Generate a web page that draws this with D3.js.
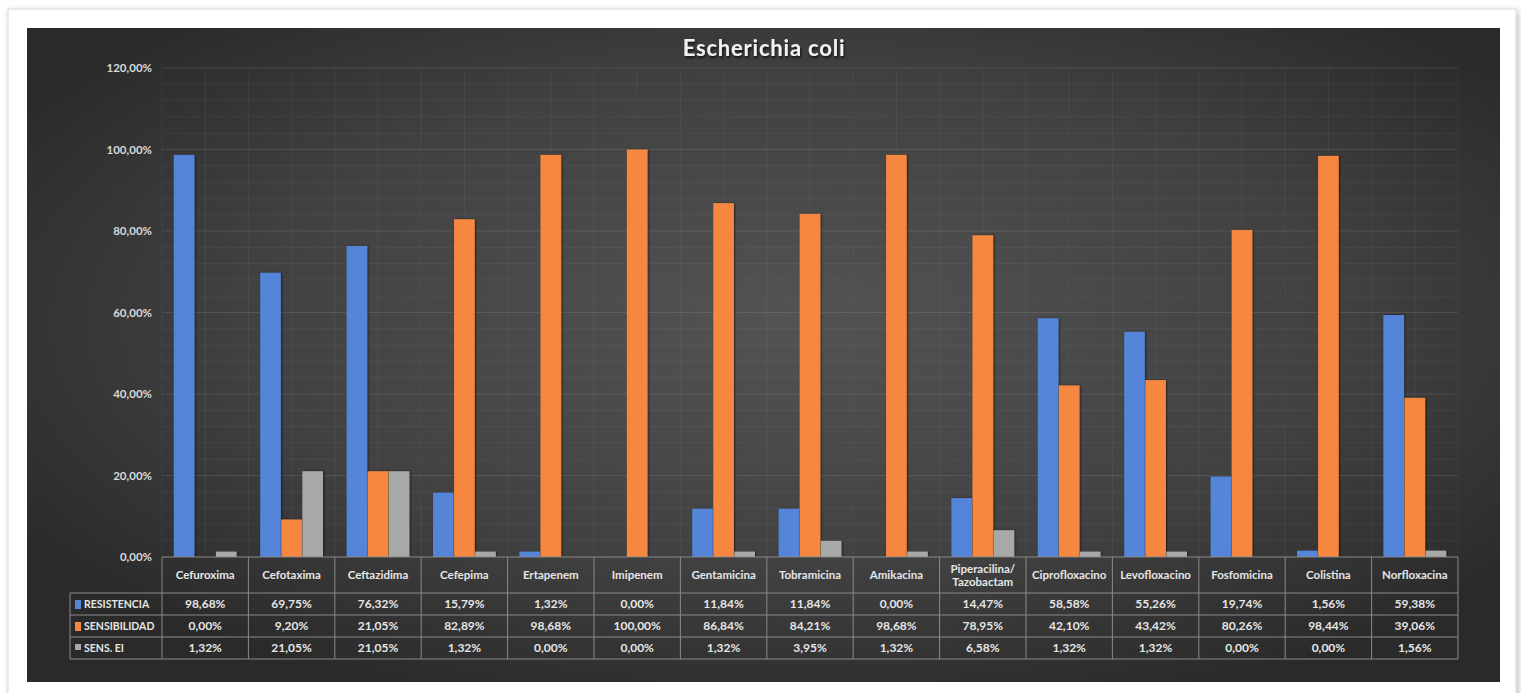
<!DOCTYPE html>
<html>
<head>
<meta charset="utf-8">
<script src="https://cdn.jsdelivr.net/npm/d3@7"></script>
<style>
  html, body { margin: 0; padding: 0; background: #ffffff; }
  svg { display: block; }
</style>
</head>
<body>
<svg id="chart" width="1521" height="693"></svg>
<script>
// Antibiotic susceptibility for Escherichia coli
const title = "Escherichia coli";
const categories = [
  "Cefuroxima", "Cefotaxima", "Ceftazidima", "Cefepima", "Ertapenem",
  "Imipenem", "Gentamicina", "Tobramicina", "Amikacina",
  "Piperacilina/\nTazobactam", "Ciprofloxacino", "Levofloxacino",
  "Fosfomicina", "Colistina", "Norfloxacina"
];
const seriesNames = ["RESISTENCIA", "SENSIBILIDAD", "SENS. EI"];
const resistencia  = [98.68, 69.75, 76.32, 15.79, 1.32, 0.00, 11.84, 11.84, 0.00, 14.47, 58.58, 55.26, 19.74, 1.56, 59.38];
const sensibilidad = [0.00, 9.20, 21.05, 82.89, 98.68, 100.00, 86.84, 84.21, 98.68, 78.95, 42.10, 43.42, 80.26, 98.44, 39.06];
const sensEI       = [1.32, 21.05, 21.05, 1.32, 0.00, 0.00, 1.32, 3.95, 1.32, 6.58, 1.32, 1.32, 0.00, 0.00, 1.56];
const yTicks = [0, 20, 40, 60, 80, 100, 120];

const seriesValues = [resistencia, sensibilidad, sensEI];
const colors = ["#5585d8", "#f5873f", "#a8a8a8"];

const locale = d3.formatLocale({ decimal: ",", thousands: ".", grouping: [3], currency: ["", "€"] });
const pct = v => locale.format(".2f")(v) + "%";

const svg = d3.select("#chart");
const defs = svg.append("defs");

// background gradient of the chart area
const rg = defs.append("radialGradient").attr("id", "bg")
  .attr("cx", "52%").attr("cy", "45%").attr("r", "62%");
rg.append("stop").attr("offset", "0%").attr("stop-color", "#535353");
rg.append("stop").attr("offset", "60%").attr("stop-color", "#414141");
rg.append("stop").attr("offset", "100%").attr("stop-color", "#2a2a2a");

const card = defs.append("filter").attr("id", "cardShadow")
  .attr("x", "-2%").attr("y", "-2%").attr("width", "104%").attr("height", "104%");
card.append("feDropShadow").attr("dx", 2).attr("dy", 2).attr("stdDeviation", 3)
  .attr("flood-color", "#000").attr("flood-opacity", 0.25);

const barShadow = defs.append("filter").attr("id", "barShadow")
  .attr("x", "-30%").attr("y", "-5%").attr("width", "160%").attr("height", "110%");
barShadow.append("feDropShadow").attr("dx", 1).attr("dy", 0).attr("stdDeviation", 1.2)
  .attr("flood-color", "#000").attr("flood-opacity", 0.55);

const textShadow = defs.append("filter").attr("id", "textShadow")
  .attr("x", "-10%").attr("y", "-30%").attr("width", "120%").attr("height", "160%");
textShadow.append("feDropShadow").attr("dx", 1).attr("dy", 2).attr("stdDeviation", 1.2)
  .attr("flood-color", "#000").attr("flood-opacity", 0.7);

// white card and dark chart area
svg.append("rect").attr("x", 8).attr("y", 9).attr("width", 1508).attr("height", 690)
  .attr("fill", "#ffffff").attr("stroke", "#d8d8d8").attr("filter", "url(#cardShadow)");
svg.append("rect").attr("x", 27).attr("y", 28).attr("width", 1473).attr("height", 654)
  .attr("fill", "url(#bg)");

// title
svg.append("text")
  .attr("x", 764).attr("y", 56)
  .attr("text-anchor", "middle")
  .attr("font-family", "Lato, 'Open Sans', sans-serif")
  .attr("font-weight", 700)
  .attr("font-size", 22)
  .attr("letter-spacing", 0.8)
  .attr("fill", "#f2f2f2")
  .attr("filter", "url(#textShadow)")
  .text(title);

// scales
const plot = { left: 162, right: 1458, top: 68, bottom: 557 };
const x0 = d3.scaleBand().domain(categories).range([plot.left, plot.right]).padding(0);
const x1 = d3.scaleBand().domain(seriesNames).range([0, x0.bandwidth()])
  .paddingInner(0.02).paddingOuter(0.56);
const y = d3.scaleLinear().domain([0, 120]).range([plot.bottom, plot.top]);

const grid = svg.append("g");
// minor horizontal grid lines
grid.selectAll("line.minor").data(d3.range(4, 120, 4).filter(v => v % 20 !== 0))
  .join("line")
  .attr("x1", plot.left).attr("x2", plot.right)
  .attr("y1", d => y(d)).attr("y2", d => y(d))
  .attr("stroke", "#ffffff").attr("stroke-opacity", 0.05);
// major horizontal grid lines
grid.selectAll("line.major").data(yTicks.filter(v => v > 0))
  .join("line")
  .attr("x1", plot.left).attr("x2", plot.right)
  .attr("y1", d => y(d)).attr("y2", d => y(d))
  .attr("stroke", "#ffffff").attr("stroke-opacity", 0.1);
// vertical grid lines at category edges and centres
const vLines = [];
categories.forEach(c => {
  vLines.push(x0(c));
  vLines.push(x0(c) + x0.bandwidth() / 2);
});
vLines.push(plot.right);
grid.selectAll("line.v").data(vLines)
  .join("line")
  .attr("x1", d => d).attr("x2", d => d)
  .attr("y1", plot.top).attr("y2", plot.bottom)
  .attr("stroke", "#ffffff").attr("stroke-opacity", 0.05);

// y axis labels
const yAxis = d3.axisLeft(y).tickValues(yTicks).tickSize(0).tickPadding(10)
  .tickFormat(d => pct(d));
const ya = svg.append("g").attr("transform", `translate(${plot.left},0)`).call(yAxis);
ya.select(".domain").remove();
ya.selectAll("text")
  .attr("font-family", "Lato, 'Open Sans', sans-serif")
  .attr("font-weight", 700)
  .attr("font-size", 11.5)
  .attr("fill", "#d9d9d9");

// bars
const groups = svg.append("g").selectAll("g")
  .data(categories)
  .join("g")
  .attr("transform", d => `translate(${x0(d)},0)`);
groups.selectAll("rect")
  .data((c, i) => seriesNames.map((s, k) => ({ s, k, v: seriesValues[k][i] })))
  .join("rect")
  .filter(d => d.v > 0)
  .attr("x", d => x1(d.s))
  .attr("width", x1.bandwidth())
  .attr("y", d => y(d.v))
  .attr("height", d => y(0) - y(d.v))
  .attr("fill", d => colors[d.k])
  .attr("filter", "url(#barShadow)");

// data table
const table = svg.append("g");
const lineColor = "#8a8a8a";
const headerBottom = 593;
const rowH = 22;
const legendLeft = 70;
const tableBottom = headerBottom + rowH * seriesNames.length;
const font = "Lato, 'Open Sans', sans-serif";

// horizontal table lines
table.append("line").attr("x1", plot.left).attr("x2", plot.right)
  .attr("y1", plot.bottom).attr("y2", plot.bottom).attr("stroke", lineColor);
d3.range(seriesNames.length + 1).forEach(r => {
  const yy = headerBottom + r * rowH;
  table.append("line").attr("x1", legendLeft).attr("x2", plot.right)
    .attr("y1", yy).attr("y2", yy).attr("stroke", lineColor);
});
// vertical table lines
const colEdges = categories.map(c => x0(c)).concat([plot.right]);
table.selectAll("line.col").data(colEdges).join("line")
  .attr("x1", d => d).attr("x2", d => d)
  .attr("y1", plot.bottom).attr("y2", tableBottom)
  .attr("stroke", lineColor);
table.append("line").attr("x1", legendLeft).attr("x2", legendLeft)
  .attr("y1", headerBottom).attr("y2", tableBottom).attr("stroke", lineColor);

// category header text
categories.forEach(c => {
  const lines = c.split("\n");
  const cx = x0(c) + x0.bandwidth() / 2;
  const cy = (plot.bottom + headerBottom) / 2;
  const t = table.append("text")
    .attr("x", cx)
    .attr("text-anchor", "middle")
    .attr("font-family", font)
    .attr("font-weight", 700)
    .attr("font-size", 11.5)
    .attr("fill", "#e6e6e6");
  lines.forEach((ln, i) => {
    t.append("tspan").attr("x", cx)
      .attr("y", cy + 4 + (i - (lines.length - 1) / 2) * 13)
      .text(ln);
  });
});

// legend cells and values
seriesNames.forEach((s, k) => {
  const top = headerBottom + k * rowH;
  table.append("rect")
    .attr("x", legendLeft + 5).attr("y", top + 7)
    .attr("width", 6).attr("height", k === 2 ? 6 : 9)
    .attr("fill", colors[k]);
  table.append("text")
    .attr("x", legendLeft + 14).attr("y", top + 15)
    .attr("font-family", font).attr("font-weight", 700)
    .attr("font-size", 10.5).attr("fill", "#e6e6e6")
    .text(s);
  categories.forEach((c, i) => {
    table.append("text")
      .attr("x", x0(c) + x0.bandwidth() / 2).attr("y", top + 15)
      .attr("text-anchor", "middle")
      .attr("font-family", font).attr("font-weight", 700)
      .attr("font-size", 12).attr("fill", "#e6e6e6")
      .text(pct(seriesValues[k][i]));
  });
});
</script>
</body>
</html>
